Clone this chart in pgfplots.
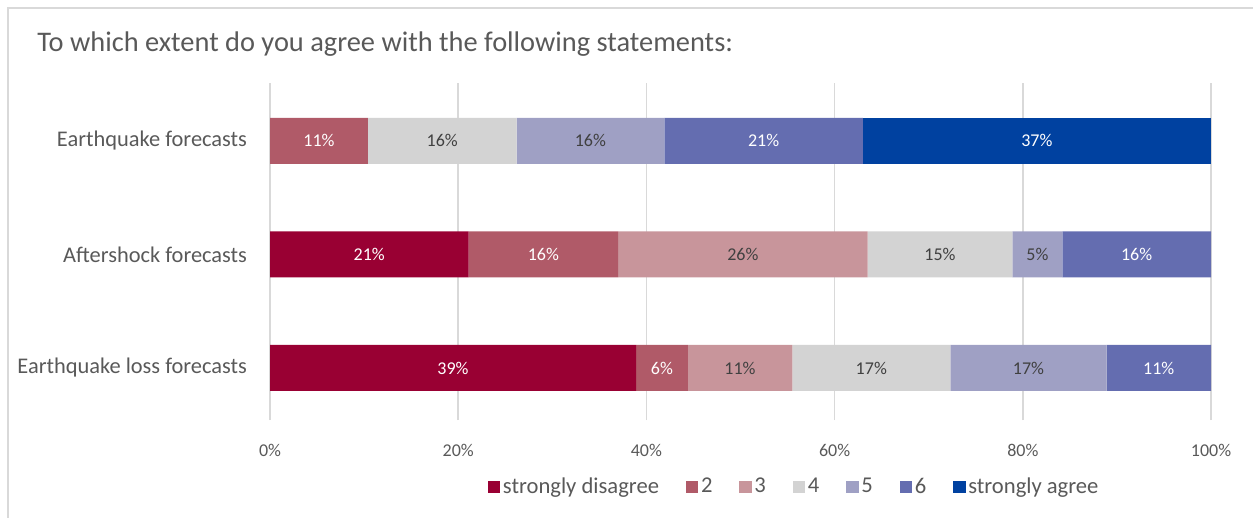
\documentclass[border=0pt]{standalone}
\usepackage{pgfplots}
\usepackage{pgfplotstable}
\pgfplotsset{compat=1.18}
\usepackage{fontspec}
\setmainfont{Carlito}
\definecolor{csd}{HTML}{990033}
\definecolor{c2}{HTML}{B05A68}
\definecolor{c3}{HTML}{C8959B}
\definecolor{c4}{HTML}{D3D3D3}
\definecolor{c5}{HTML}{9FA0C4}
\definecolor{c6}{HTML}{646DB0}
\definecolor{csa}{HTML}{0041A0}
\definecolor{txt}{HTML}{595959}
\definecolor{dark}{HTML}{404040}
\definecolor{gridc}{HTML}{D9D9D9}
% y: 2 = Earthquake forecasts, 1 = Aftershock forecasts, 0 = Earthquake loss forecasts
\pgfplotstableread{
x y label
0 2 {}
21.1 1 21\%
38.9 0 39\%
}\tsd
\pgfplotstableread{
x y label
10.4 2 11\%
15.9 1 16\%
5.5 0 6\%
}\ttwo
\pgfplotstableread{
x y label
0 2 {}
26.5 1 26\%
11.1 0 11\%
}\tthree
\pgfplotstableread{
x y label
15.8 2 16\%
15.4 1 15\%
16.8 0 17\%
}\tfour
\pgfplotstableread{
x y label
15.7 2 16\%
5.3 1 5\%
16.6 0 17\%
}\tfive
\pgfplotstableread{
x y label
21.1 2 21\%
15.8 1 16\%
11.1 0 11\%
}\tsix
\pgfplotstableread{
x y label
37.0 2 37\%
0 1 {}
0 0 {}
}\tsa
\begin{document}
\begin{tikzpicture}
\path[use as bounding box] (0pt,0pt) rectangle (626.5pt,-259pt);
\draw[gridc, line width=1pt] (4pt,-260pt) -- (4pt,-4pt) -- (628pt,-4pt);
\node[anchor=base west, font=\fontsize{14.2}{16}\selectfont, text=txt, inner sep=0] at (18.5pt,-26pt) {To which extent do you agree with the following statements:};
\begin{axis}[
  at={(135pt,-210pt)}, anchor=south west,
  scale only axis, width=470.5pt, height=168.5pt,
  xbar stacked, bar width=23pt,
  xmin=0, xmax=100, ymin=-0.458, ymax=2.51,
  axis line style={draw=none},
  major tick length=0pt,
  xmajorgrids, grid style={gridc, line width=0.8pt},
  xtick={0,20,40,60,80,100},
  xticklabel={\pgfmathprintnumber{\tick}\%},
  /pgf/number format/assume math mode=true,
  xticklabel style={anchor=center, yshift=-15pt, font=\fontsize{9}{10}\selectfont, text=txt},
  ytick={0,1,2},
  yticklabels={Earthquake loss forecasts, Aftershock forecasts, Earthquake forecasts},
  yticklabel style={anchor=east, xshift=-8pt, font=\fontsize{11.2}{12}\selectfont, text=txt},
  nodes near coords, point meta=explicit symbolic,
  every node near coord/.append style={anchor=center, font=\fontsize{9}{10}\selectfont},
  legend style={at={(0.5574,-0.199)}, anchor=center, legend columns=7, draw=none, fill=none,
    font=\fontsize{11.3}{12}\selectfont, text=txt, nodes={inner xsep=1.4pt},
    /tikz/every even column/.append style={column sep=12pt}},
  legend image code/.code={\fill[#1] (0pt,-3.1pt) rectangle (6.2pt,3.1pt);},
]
\addplot[fill=csd, draw=none, nodes near coords style={text=white}] table[x=x,y=y,meta=label] {\tsd};
\addplot[fill=c2, draw=none, nodes near coords style={text=white}] table[x=x,y=y,meta=label] {\ttwo};
\addplot[fill=c3, draw=none, nodes near coords style={text=dark}] table[x=x,y=y,meta=label] {\tthree};
\addplot[fill=c4, draw=none, nodes near coords style={text=dark}] table[x=x,y=y,meta=label] {\tfour};
\addplot[fill=c5, draw=none, nodes near coords style={text=dark}] table[x=x,y=y,meta=label] {\tfive};
\addplot[fill=c6, draw=none, nodes near coords style={text=white}] table[x=x,y=y,meta=label] {\tsix};
\addplot[fill=csa, draw=none, nodes near coords style={text=white}] table[x=x,y=y,meta=label] {\tsa};
\legend{strongly disagree,2,3,4,5,6,strongly agree}
\end{axis}
\end{tikzpicture}
\end{document}
